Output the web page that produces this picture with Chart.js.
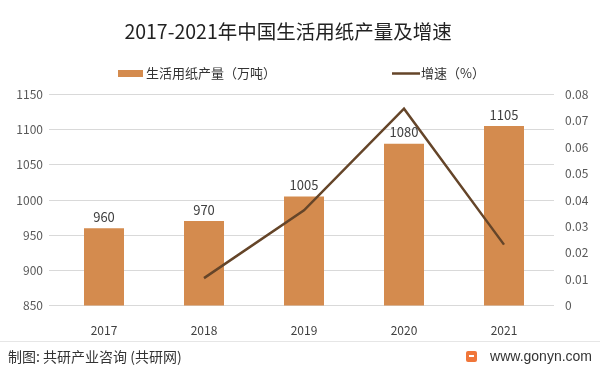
<!DOCTYPE html>
<html>
<head>
<meta charset="utf-8">
<script src="https://cdn.jsdelivr.net/npm/chart.js@4.4.0/dist/chart.umd.min.js"></script>
<style>
  html, body { margin: 0; padding: 0; background: #fff; }
  #wrap { width: 600px; height: 373px; }
</style>
</head>
<body>
<div id="wrap"><canvas id="paperChart"></canvas></div>
<script>
// --- data ---
const years = ['2017', '2018', '2019', '2020', '2021'];
const output = [960, 970, 1005, 1080, 1105];          // 万吨
const growth = [null, 0.0104, 0.0361, 0.0746, 0.0231]; // 增速
const leftTicks = [850, 1150, 50];
const rightTicks = [0, 0.08, 0.01];

const barColor = '#D48B4E';
const lineColor = '#654529';
const cjk = '"Noto Sans CJK SC", "Noto Sans", sans-serif';

// value labels over the bars + legend + footer
const extras = {
    id: 'extras',
    afterDatasetsDraw(chart) {
        const ctx = chart.ctx;
        const meta = chart.getDatasetMeta(0);
        ctx.save();
        ctx.font = '13px ' + cjk;
        ctx.fillStyle = '#404040';
        ctx.textAlign = 'center';
        ctx.textBaseline = 'bottom';
        meta.data.forEach((bar, i) => {
            ctx.fillText(output[i], bar.x, bar.y - 5);
        });
        ctx.restore();
    },
    afterDraw(chart) {
        const ctx = chart.ctx;
        ctx.save();
        // legend
        ctx.font = '13px ' + cjk;
        ctx.textBaseline = 'middle';
        ctx.fillStyle = barColor;
        ctx.fillRect(118, 70, 25, 7);
        ctx.fillStyle = '#333';
        ctx.textAlign = 'left';
        ctx.fillText(chart.data.datasets[0].label, 146, 73.5);
        ctx.strokeStyle = lineColor;
        ctx.lineWidth = 2.5;
        ctx.beginPath();
        ctx.moveTo(392, 73.5);
        ctx.lineTo(420, 73.5);
        ctx.stroke();
        ctx.fillText(chart.data.datasets[1].label, 421, 73.5);

        // footer
        ctx.strokeStyle = '#e6e6e6';
        ctx.lineWidth = 1;
        ctx.beginPath();
        ctx.moveTo(0, 341.5);
        ctx.lineTo(600, 341.5);
        ctx.stroke();
        ctx.font = '14px ' + cjk;
        ctx.fillStyle = '#333';
        ctx.fillText('制图: 共研产业咨询 (共研网)', 8, 357);
        ctx.fillStyle = '#F0763A';
        ctx.beginPath();
        ctx.roundRect(466, 351, 11, 11, 2);
        ctx.fill();
        ctx.fillStyle = '#fff';
        ctx.fillRect(469, 355, 5, 2);
        ctx.fillStyle = '#333';
        ctx.font = '14px "Liberation Sans", sans-serif';
        ctx.textAlign = 'right';
        ctx.fillText('www.gonyn.com', 592, 357);
        ctx.restore();
    }
};

new Chart(document.getElementById('paperChart'), {
    type: 'bar',
    data: {
        labels: years,
        datasets: [{
            label: '生活用纸产量（万吨）',
            data: output,
            backgroundColor: barColor,
            borderWidth: 0,
            barPercentage: 0.4,
            categoryPercentage: 1,
            yAxisID: 'y',
            order: 2
        }, {
            type: 'line',
            label: '增速（%）',
            data: growth,
            borderColor: lineColor,
            borderWidth: 2.5,
            pointRadius: 0,
            tension: 0,
            fill: false,
            yAxisID: 'y1',
            order: 1
        }]
    },
    plugins: [extras],
    options: {
        responsive: true,
        maintainAspectRatio: false,
        animation: false,
        layout: { padding: { top: 0, bottom: 25, left: 0, right: 0 } },
        plugins: {
            legend: { display: false },
            tooltip: { enabled: false },
            title: {
                display: true,
                // trailing spaces push the centred title a little left, as in the source
                text: '2017-2021年中国生活用纸产量及增速\u3000 ',
                color: '#222',
                font: { size: 19.5, family: cjk, weight: 'normal' },
                padding: { top: 20, bottom: 51 }
            }
        },
        scales: {
            x: {
                grid: { display: false },
                border: { display: false },
                ticks: { color: '#404040', font: { size: 12, family: cjk }, padding: 10 }
            },
            y: {
                position: 'left',
                min: leftTicks[0],
                max: leftTicks[1],
                afterFit: s => { s.width = 54; },
                border: { display: false },
                grid: { color: '#d9d9d9', tickLength: 5 },
                ticks: {
                    stepSize: leftTicks[2],
                    color: '#595959',
                    font: { size: 12, family: cjk },
                    padding: 6,
                    callback: v => String(v)
                }
            },
            y1: {
                position: 'right',
                min: rightTicks[0],
                max: rightTicks[1],
                afterFit: s => { s.width = 46; },
                border: { display: false },
                grid: { drawOnChartArea: false, drawTicks: false },
                ticks: {
                    stepSize: rightTicks[2],
                    color: '#595959',
                    font: { size: 12, family: cjk },
                    padding: 11,
                    callback: v => v === 0 ? '0' : v.toFixed(2)
                }
            }
        }
    }
});
</script>
</body>
</html>
